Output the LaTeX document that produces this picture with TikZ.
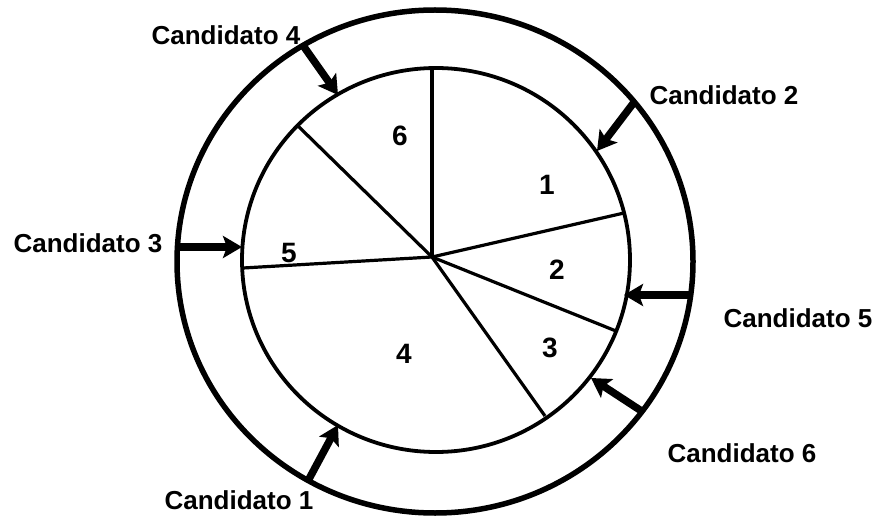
\documentclass[tikz,border=0pt]{standalone}
\usepackage{fontspec}
\setmainfont{Liberation Sans}
\usetikzlibrary{arrows.meta}
\begin{document}
\begin{tikzpicture}[x=1pt,y=-1pt,
  lbl/.style={font=\fontsize{26}{30}\selectfont\bfseries, inner sep=0pt},
  num/.style={font=\fontsize{28}{30}\selectfont\bfseries, inner sep=0pt},
  slice/.style={line width=3.2pt},
  arr/.style={line width=7.5pt, -{Stealth[length=19pt,width=22pt,inset=4pt]}}]
\useasboundingbox (0,0) rectangle (876,516);
% circles
\draw[line width=5.5pt] (435,261.5) ellipse [x radius=258, y radius=251.5];
\draw[line width=3.8pt] (436,260) ellipse [x radius=194, y radius=192];
% center and slice ends
\coordinate (o) at (432,257);
\coordinate (p1) at (432,68);
\coordinate (p2) at (297,125);
\coordinate (p3) at (243,268);
\coordinate (p4) at (624,213);
\coordinate (p5) at (616,331);
\coordinate (p6) at (545,416);
\foreach \p in {p1,p2,p3,p4,p5,p6} \draw[slice] (o) -- (\p);
% numbers
\node[num] (n6) at (400,136) {6};
\node[num] (n1) at (547,185) {1};
\node[num] (n2) at (557,270) {2};
\node[num] (n3) at (550,348) {3};
\node[num] (n4) at (404,354) {4};
\node[num] (n5) at (289,253) {5};
% labels
\node[lbl] (c4) at (226,35) {Candidato 4};
\node[lbl] (c2) at (724,95) {Candidato 2};
\node[lbl] (c5) at (798,318) {Candidato 5};
\node[lbl] (c6) at (742,453) {Candidato 6};
\node[lbl] (c1) at (239,500) {Candidato 1};
\node[lbl] (c3) at (88,243) {Candidato 3};
% arrow coordinates
\coordinate (a4s) at (302,44);  \coordinate (a4e) at (338,95);
\coordinate (a2s) at (635,101); \coordinate (a2e) at (597,151);
\coordinate (a5s) at (691,295); \coordinate (a5e) at (624,295);
\coordinate (a6s) at (643,412); \coordinate (a6e) at (591,378);
\coordinate (a1s) at (309,479); \coordinate (a1e) at (338,425);
\coordinate (a3s) at (177,247); \coordinate (a3e) at (242,247);
\draw[arr] (a4s) -- (a4e);
\draw[arr] (a2s) -- (a2e);
\draw[arr] (a5s) -- (a5e);
\draw[arr] (a6s) -- (a6e);
\draw[arr] (a1s) -- (a1e);
\draw[arr] (a3s) -- (a3e);
\end{tikzpicture}
\end{document}
